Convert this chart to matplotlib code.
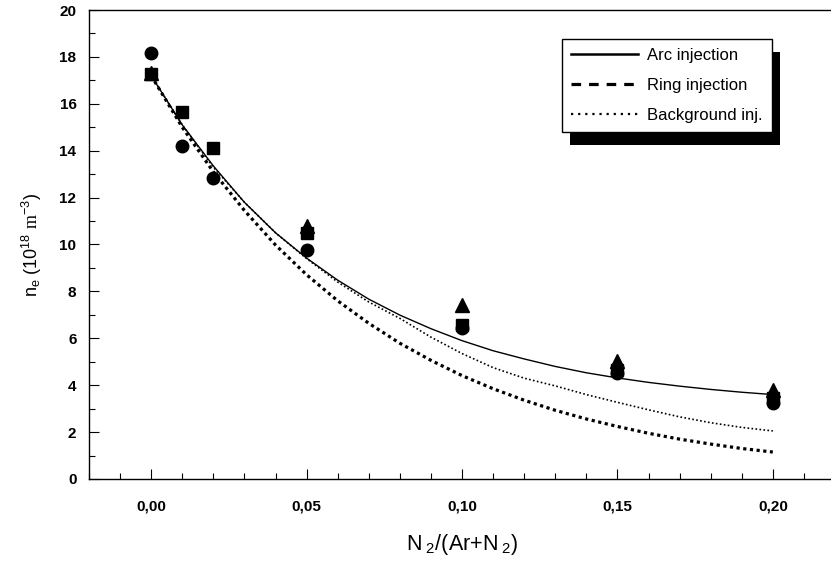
import numpy as np
import matplotlib
matplotlib.use('Agg')
import matplotlib.pyplot as plt
from matplotlib.lines import Line2D
from matplotlib.patches import Rectangle
from matplotlib.ticker import MultipleLocator, FixedLocator

plt.rcParams['font.family'] = ['Liberation Sans', 'DejaVu Sans']
plt.rcParams['mathtext.fontset'] = 'custom'
plt.rcParams['mathtext.rm'] = 'Liberation Serif'
plt.rcParams['mathtext.sf'] = 'Liberation Sans'
plt.rcParams['mathtext.it'] = 'Liberation Sans'

# fitted curves
x_fit = [0.00, 0.01, 0.02, 0.03, 0.04, 0.05, 0.06, 0.07, 0.08, 0.09, 0.10,
         0.11, 0.12, 0.13, 0.14, 0.15, 0.16, 0.17, 0.18, 0.19, 0.20]
arc_fit = [17.2, 15.1, 13.35, 11.8, 10.5, 9.42, 8.48, 7.67, 6.99, 6.41, 5.90,
           5.47, 5.12, 4.80, 4.53, 4.31, 4.12, 3.96, 3.82, 3.70, 3.60]
ring_fit = [17.2, 15.0, 13.1, 11.45, 9.98, 8.71, 7.60, 6.64, 5.79, 5.06, 4.41,
            3.85, 3.36, 2.93, 2.56, 2.24, 1.95, 1.70, 1.49, 1.30, 1.15]
bg_fit = [17.2, 15.1, 13.3, 11.8, 10.5, 9.4, 8.4, 7.55, 6.85, 6.05, 5.35,
          4.75, 4.3, 3.97, 3.6, 3.27, 2.95, 2.65, 2.4, 2.2, 2.05]

# measured points
x_circ = [0.00, 0.01, 0.02, 0.05, 0.10, 0.15, 0.20]
y_circ = [18.15, 14.2, 12.85, 9.78, 6.45, 4.5, 3.25]
x_sq = [0.00, 0.01, 0.02, 0.05, 0.10, 0.15, 0.20]
y_sq = [17.25, 15.63, 14.13, 10.5, 6.56, 4.65, 3.45]
x_tri = [0.00, 0.05, 0.10, 0.15, 0.20]
y_tri = [17.3, 10.8, 7.42, 5.05, 3.78]

xticks = [0.00, 0.05, 0.10, 0.15, 0.20]
xticklabels = ['0,00', '0,05', '0,10', '0,15', '0,20']

fig = plt.figure(figsize=(8.31, 5.64), dpi=100)
ax = fig.add_axes([89/831, 85/564, 746/831, 469/564])

ax.plot(x_fit, arc_fit, c='k', lw=1.0, linestyle='-')
ax.plot(x_fit, ring_fit, c='k', lw=2.3, linestyle=(0, (1, 1.1)))
ax.plot(x_fit, bg_fit, c='k', lw=1.2, linestyle=(0, (1, 1.4)))

ax.plot(x_tri, y_tri, '^', c='k', ms=10, ls='none')
ax.plot(x_sq, y_sq, 's', c='k', ms=8.5, ls='none')
ax.plot(x_circ, y_circ, 'o', c='k', ms=9, ls='none')

ax.set_xlim([-0.02, 0.22])
ax.set_ylim([0, 20])
ax.xaxis.set_major_locator(FixedLocator(xticks))
ax.set_xticklabels(xticklabels)
ax.xaxis.set_minor_locator(MultipleLocator(0.01))
ax.yaxis.set_major_locator(MultipleLocator(2))
ax.yaxis.set_minor_locator(MultipleLocator(1))
ax.tick_params(which='both', direction='in', top=False, right=False,
               labelsize=11, width=0.8)
ax.tick_params(axis='y', which='major', length=7, pad=9)
ax.tick_params(axis='x', which='major', length=7, pad=15)
ax.tick_params(which='minor', length=4)
for lab in ax.get_xticklabels() + ax.get_yticklabels():
    lab.set_fontweight('bold')
for s in ax.spines.values():
    s.set_linewidth(1.0)

ax.set_xlabel(r'N$_{\mathsf{\ 2}}$/(Ar+N$_{\mathsf{\ 2}}$)', fontsize=15.5,
              labelpad=13)
ax.set_ylabel(r'n$_{\mathsf{e}}$ (10$^{\mathsf{18}}$ $\mathrm{m}^{\mathsf{-3}}$)',
              fontsize=13, labelpad=11)

handles = [Line2D([0], [0], c='k', lw=1.8, ls='-'),
           Line2D([0], [0], c='k', lw=2.3, ls=(0, (3, 2.5))),
           Line2D([0], [0], c='k', lw=1.6, ls=(0, (1, 2.2)))]
leg = ax.legend(handles, ['Arc injection', 'Ring injection', 'Background inj.'],
                loc='upper right', bbox_to_anchor=(0.9155, 0.938),
                borderaxespad=0, fancybox=False, framealpha=1,
                edgecolor='k', fontsize=12, handlelength=4.0,
                labelspacing=0.9, handletextpad=0.55, borderpad=0.55)
leg.get_frame().set_linewidth(1.0)

fig.canvas.draw()
bb = leg.get_window_extent()
shadow = Rectangle((bb.x0 + 8, bb.y0 - 13), bb.width, bb.height,
                   transform=None, facecolor='k', edgecolor='none',
                   zorder=4.5, clip_on=False)
ax.add_patch(shadow)

fig.savefig('out.png', dpi=100)
